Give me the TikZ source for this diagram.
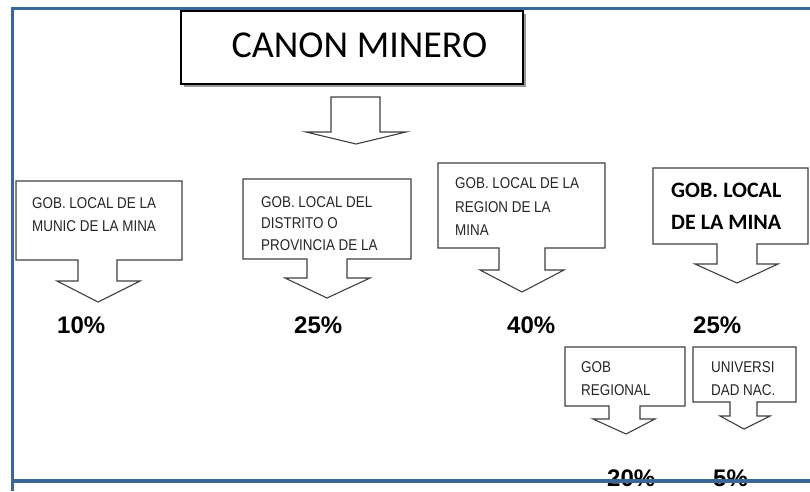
\documentclass[tikz,border=0pt]{standalone}
\usepackage{fontspec}
\setmainfont{Liberation Sans}
\newfontfamily\calib{Carlito}
\newfontfamily\narrowf[FakeStretch=0.86]{Liberation Sans}
\definecolor{frameblue}{HTML}{3B6699}
\begin{document}
\begin{tikzpicture}[x=1pt,y=-1pt,
  callout/.style={draw=black!75, line width=1.1pt, fill=white, line join=miter},
  smalltxt/.style={anchor=base west, inner sep=0pt, font=\narrowf\fontsize{15.6}{18}\selectfont, text=black!85},
  boldtxt/.style={anchor=base west, inner sep=0pt, font=\calib\bfseries\fontsize{22}{26}\selectfont},
  pct/.style={anchor=base west, inner sep=0pt, font=\bfseries\fontsize{24}{28}\selectfont}]
\useasboundingbox (0,0) rectangle (810,491);
\fill[white] (0,0) rectangle (810,491);

% title box with shadow
\fill[black!40] (184,14) rectangle (526,87);
\node[draw=black, line width=1.2pt, fill=white, minimum width=342pt, minimum height=73pt, inner sep=0pt] (canon) at (352,47.5) {};
\node[anchor=base, inner sep=0pt, font=\calib\fontsize{38}{44}\selectfont] (canontxt) at (359.5,57) {CANON MINERO};

% top arrow
\draw[callout] (331,97) -- (380,97) -- (380,132) -- (406,132) -- (356,144) -- (306,132) -- (331,132) -- cycle;

% callout 1
\draw[callout] (16,181) -- (182,181) -- (182,260) -- (117,260) -- (117,281) -- (140,281) -- (98,302) -- (57,281) -- (78,281) -- (78,260) -- (16,260) -- cycle;
\node[smalltxt] (b1a) at (32,208) {GOB. LOCAL DE LA};
\node[smalltxt] (b1b) at (32,231) {MUNIC DE LA MINA};

% callout 2
\draw[callout] (243,179) -- (411,179) -- (411,259) -- (347,259) -- (347,278) -- (370,278) -- (327,298) -- (285,278) -- (307,278) -- (307,259) -- (243,259) -- cycle;
\node[smalltxt] (b2a) at (261,207) {GOB. LOCAL DEL};
\node[smalltxt] (b2b) at (261,228.5) {DISTRITO O};
\node[smalltxt] (b2c) at (261,250) {PROVINCIA DE LA};

% callout 3
\draw[callout] (438,163) -- (605,163) -- (605,248) -- (545,248) -- (545,270) -- (564,270) -- (522,292) -- (480,270) -- (499,270) -- (499,248) -- (438,248) -- cycle;
\node[smalltxt] (b3a) at (455,188) {GOB. LOCAL DE LA};
\node[smalltxt] (b3b) at (455,212) {REGION DE LA};
\node[smalltxt] (b3c) at (455,235) {MINA};

% callout 4
\draw[callout] (653,168) -- (808,168) -- (808,244) -- (757,244) -- (757,264) -- (778,264) -- (737,283) -- (695,264) -- (717,264) -- (717,244) -- (653,244) -- cycle;
\node[boldtxt] (b4a) at (671,197) {GOB. LOCAL};
\node[boldtxt] (b4b) at (671,229) {DE LA MINA};

% callout 5
\draw[callout] (565,347) -- (685,347) -- (685,406) -- (640,406) -- (640,419) -- (655,419) -- (626,434) -- (593,419) -- (609,419) -- (609,406) -- (565,406) -- cycle;
\node[smalltxt] (b5a) at (581,372) {GOB};
\node[smalltxt] (b5b) at (581,395) {REGIONAL};

% callout 6
\draw[callout] (693,347) -- (796,347) -- (796,402) -- (757,402) -- (757,416) -- (770,416) -- (744,429) -- (720,416) -- (730,416) -- (730,402) -- (693,402) -- cycle;
\node[smalltxt] (b6a) at (711,372) {UNIVERSI};
\node[smalltxt] (b6b) at (711,395) {DAD NAC.};

% percentages
\node[pct] (p1) at (57,333) {10\%};
\node[pct] (p2) at (294,333) {25\%};
\node[pct] (p3) at (507,333) {40\%};
\node[pct] (p4) at (693,333) {25\%};
\node[pct] (p5) at (607,486) {20\%};
\node[pct] (p6) at (713,486) {5\%};

% frame
\draw[frameblue, line width=3pt] (12.5,491) -- (12.5,8.5) -- (810,8.5);
\draw[frameblue, line width=4pt] (11,480.5) -- (810,480.5);
\end{tikzpicture}
\end{document}
